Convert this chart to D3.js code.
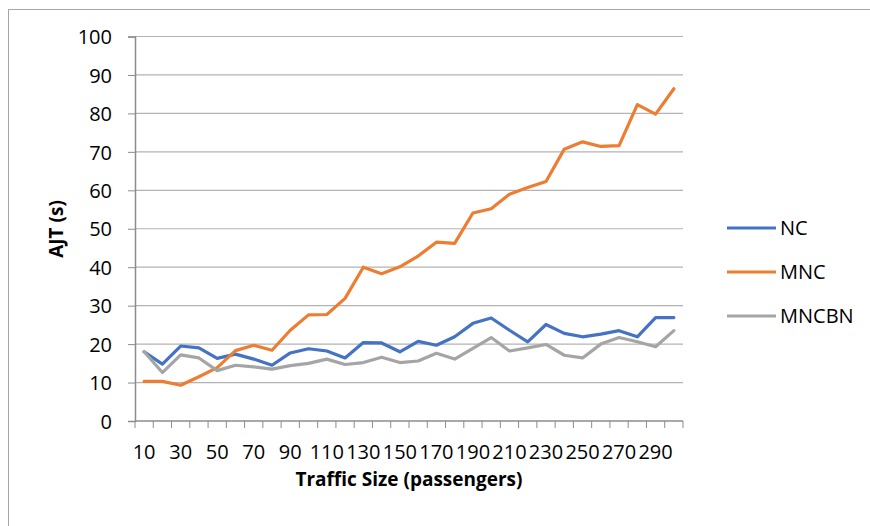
<!DOCTYPE html>
<html>
<head>
<meta charset="utf-8">
<script src="https://cdn.jsdelivr.net/npm/d3@7"></script>
<style>
  body { margin: 0; background: #fff; }
  text { font-family: "Open Sans", "Liberation Sans", sans-serif; fill: #000; }
</style>
</head>
<body>
<svg id="chart" width="870" height="526"></svg>
<script>
// traffic sizes (passengers)
const sizes = [10, 20, 30, 40, 50, 60, 70, 80, 90, 100, 110, 120, 130, 140, 150,
  160, 170, 180, 190, 200, 210, 220, 230, 240, 250, 260, 270, 280, 290, 300];

const nc = [18.0, 14.8, 19.5, 19.0, 16.3, 17.4, 16.1, 14.5, 17.7, 18.8, 18.2, 16.4, 20.4, 20.3, 18.0,
  20.7, 19.7, 21.9, 25.4, 26.8, 23.6, 20.6, 25.1, 22.8, 21.9, 22.6, 23.5, 21.9, 26.9, 26.9];
const mnc = [10.3, 10.3, 9.3, 11.5, 13.9, 18.3, 19.7, 18.4, 23.6, 27.6, 27.7, 31.9, 40.0, 38.3, 40.1,
  42.9, 46.5, 46.2, 54.1, 55.2, 59.0, 60.7, 62.3, 70.7, 72.6, 71.4, 71.6, 82.3, 79.8, 86.4];
const mncbn = [18.0, 12.6, 17.2, 16.4, 13.1, 14.5, 14.1, 13.5, 14.4, 15.0, 16.1, 14.7, 15.2, 16.6, 15.2,
  15.6, 17.6, 16.1, 18.9, 21.7, 18.2, 19.0, 19.9, 17.1, 16.4, 20.0, 21.7, 20.6, 19.3, 23.5];

const seriesNames = ["NC", "MNC", "MNCBN"];
const seriesColors = ["#4472C4", "#ED7D31", "#A5A5A5"];
const yTicks = [0, 10, 20, 30, 40, 50, 60, 70, 80, 90, 100];

const series = [nc, mnc, mncbn].map((vals, i) => ({
  name: seriesNames[i],
  color: seriesColors[i],
  values: vals.map((v, j) => ({ x: sizes[j], y: v }))
}));

const svg = d3.select("#chart");
const plotLeft = 135, plotRight = 683, plotTop = 36.5, plotBottom = 421;

// outer frame
svg.append("rect")
  .attr("x", 8.5).attr("y", 9.5)
  .attr("width", 880).attr("height", 540)
  .attr("fill", "none").attr("stroke", "#a6a6a6");

const x = d3.scaleBand().domain(sizes).range([plotLeft, plotRight]).padding(0);
const y = d3.scaleLinear().domain([0, 100]).range([plotBottom, plotTop]);

// gridlines
svg.append("g")
  .selectAll("line")
  .data(yTicks.filter(d => d > 0))
  .join("line")
  .attr("x1", plotLeft).attr("x2", plotRight)
  .attr("y1", d => y(d)).attr("y2", d => y(d))
  .attr("stroke", "#b3b3b3").attr("stroke-width", 1.2);

// y axis
const yAxis = svg.append("g")
  .attr("transform", `translate(${plotLeft},0)`)
  .call(d3.axisLeft(y).tickValues(yTicks).tickSize(7).tickPadding(16));
yAxis.select(".domain").attr("stroke", "#8c8c8c").attr("stroke-width", 1.5);
yAxis.selectAll(".tick line").attr("stroke", "#8c8c8c");
yAxis.selectAll("text").style("font-size", "20px").attr("dy", "0.36em");

// x axis: ticks on band boundaries, labels every other category
const xAxis = svg.append("g").attr("transform", `translate(0,${plotBottom})`);
xAxis.append("line")
  .attr("x1", plotLeft).attr("x2", plotRight)
  .attr("stroke", "#8c8c8c").attr("stroke-width", 1.5);
xAxis.selectAll(".xtick")
  .data(sizes.concat(["end"]))
  .join("line")
  .attr("x1", (d, i) => i < sizes.length ? x(d) : plotRight)
  .attr("x2", (d, i) => i < sizes.length ? x(d) : plotRight)
  .attr("y1", 0).attr("y2", 7)
  .attr("stroke", "#8c8c8c");
xAxis.selectAll(".xlabel")
  .data(sizes.filter((d, i) => i % 2 === 0))
  .join("text")
  .attr("x", d => x(d) + x.bandwidth() / 2)
  .attr("y", 38)
  .attr("text-anchor", "middle")
  .style("font-size", "20px")
  .text(d => d);

// lines
const line = d3.line()
  .x(d => x(d.x) + x.bandwidth() / 2)
  .y(d => y(d.y));

svg.append("g")
  .selectAll("path")
  .data(series)
  .join("path")
  .attr("d", d => line(d.values))
  .attr("fill", "none")
  .attr("stroke", d => d.color)
  .attr("stroke-width", 3.2)
  .attr("stroke-linejoin", "round")
  .attr("stroke-linecap", "round");

// axis titles
svg.append("text")
  .attr("x", (plotLeft + plotRight) / 2)
  .attr("y", 486)
  .attr("text-anchor", "middle")
  .style("font-size", "19px")
  .style("font-weight", "bold")
  .text("Traffic Size (passengers)");

svg.append("text")
  .attr("transform", "translate(63,229) rotate(-90)")
  .attr("text-anchor", "middle")
  .style("font-size", "19px")
  .style("font-weight", "bold")
  .text("AJT (s)");

// legend
const legend = svg.append("g")
  .selectAll("g")
  .data(series)
  .join("g")
  .attr("transform", (d, i) => `translate(727,${228 + i * 44})`);

legend.append("line")
  .attr("x1", 0).attr("x2", 49)
  .attr("stroke", d => d.color)
  .attr("stroke-width", 3.2);

legend.append("text")
  .attr("x", 53)
  .attr("dy", "0.36em")
  .style("font-size", "20px")
  .text(d => d.name);
</script>
</body>
</html>
